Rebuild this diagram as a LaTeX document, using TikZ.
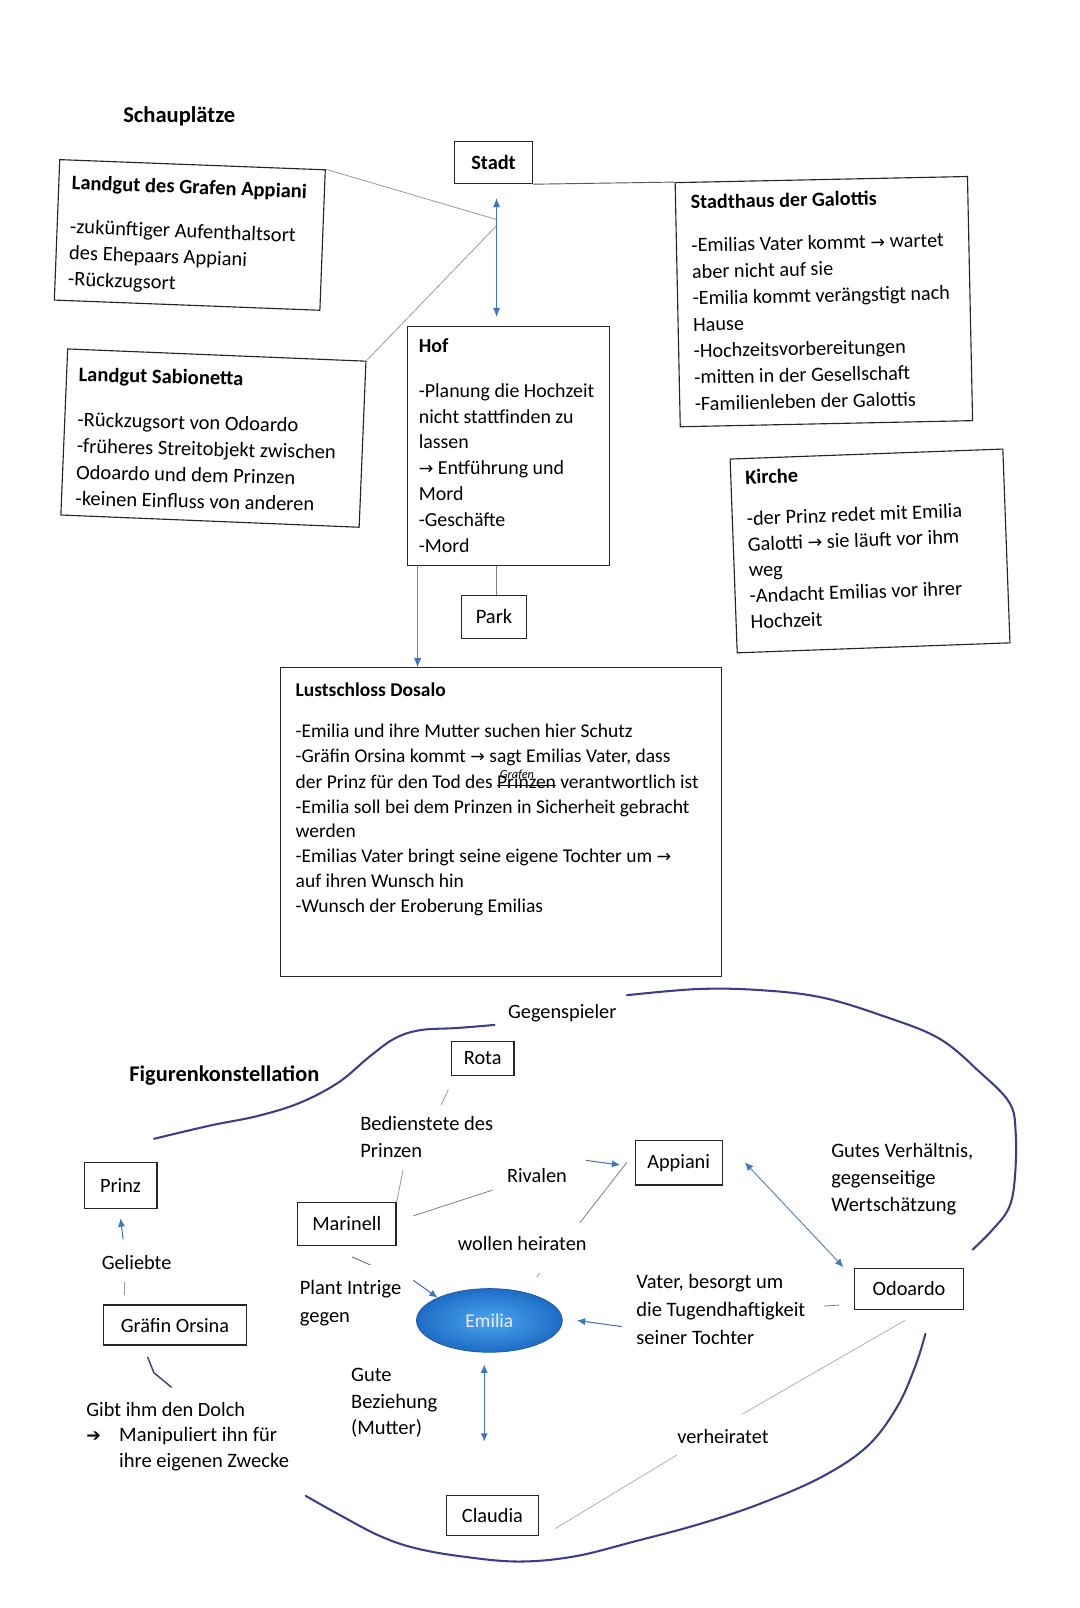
\documentclass[tikz,border=0pt]{standalone}
\usepackage{fontspec}
\setmainfont{Carlito}
\newfontfamily\arrfont{DejaVu Sans}
\usetikzlibrary{arrows.meta,shapes.geometric}
\definecolor{bluearr}{HTML}{3F74BE}
\definecolor{grayln}{HTML}{9C9C9C}
\definecolor{handc}{HTML}{3A3D88}
\definecolor{emiin}{HTML}{4CA6F0}
\definecolor{emiout}{HTML}{1E6CC6}
\definecolor{emidraw}{HTML}{1A5BA8}
\newsavebox\strkbox
\newcommand\strk[1]{\sbox\strkbox{#1}\rlap{\rule[0.3ex]{\wd\strkbox}{0.8pt}}#1}
\newcommand\txt[3]{{\fontsize{#1}{#2}\selectfont\begin{tabular}[t]{@{}l@{}}#3\end{tabular}}}
\newcommand\rarr{{\arrfont\fontsize{17}{17}\selectfont →}}
\newcommand\grafen{\rlap{\raisebox{1.1ex}{\fontsize{12}{12}\selectfont\itshape\ Grafen}}\strk{Prinzen}}
\begin{document}
\begin{tikzpicture}[x=1pt,y=-1pt,
  font=\fontsize{19.8}{25}\selectfont,
  box/.style={draw=black!85, line width=1.1pt, inner sep=0pt, rectangle},
  lbl/.style={anchor=base west, inner sep=0pt},
  gl/.style={draw=grayln, line width=0.8pt},
  bl/.style={draw=bluearr, line width=1pt},
  hand/.style={draw=handc, line width=2pt, line cap=round, line join=round}]
\fill[white] (0,0) rectangle (1052.6,1567.3);

% ---------------- Schauplaetze ----------------
\node[lbl, font=\bfseries\fontsize{22}{26}\selectfont] (schau) at (120,119) {Schauplätze};

\node[box, minimum width=76pt, minimum height=41pt, font=\bfseries\fontsize{19.8}{22}\selectfont] (stadt) at (481,158.5) {Stadt};

\begin{scope}[rotate around={-2.2:(185,229)}, transform shape]
\node[box, minimum width=259pt, minimum height=137pt] (landappiani) at (185,229) {};
\node[lbl] (landappianitxt) at (68,189) {\txt{20}{25.5}{\textbf{Landgut des Grafen Appiani}\\[17.5pt]
-zukünftiger Aufenthaltsort\\ des Ehepaars Appiani\\ -Rückzugsort}};
\end{scope}

\begin{scope}[rotate around={-2.35:(208,427)}, transform shape]
\node[box, minimum width=291pt, minimum height=162pt] (landsabio) at (208,427) {};
\end{scope}
\begin{scope}[rotate around={-1.4:(208,427)}, transform shape]
\node[lbl] (landsabiotxt) at (75,375) {\txt{20}{25.6}{\textbf{Landgut Sabionetta}\\[18.4pt]
-Rückzugsort von Odoardo\\ -früheres Streitobjekt zwischen\\ Odoardo und dem Prinzen\\ -keinen Einfluss von anderen}};
\end{scope}

\node[box, minimum width=197pt, minimum height=233pt] (hof) at (495.5,434.5) {};
\node[lbl] (hoftxt) at (408,344) {\txt{19.4}{25.3}{\textbf{Hof}\\[17.7pt]
-Planung die Hochzeit\\ nicht stattfinden zu\\ lassen\\ \rarr\ Entführung und\\ Mord\\ -Geschäfte\\ -Mord}};

\begin{scope}[rotate around={1.2:(803,294)}, transform shape]
\node[box, minimum width=285pt, minimum height=238pt] (stadthaus) at (803,294) {};
\node[lbl] (stadthaustxt) at (675,201) {\txt{19.7}{25.75}{\textbf{Stadthaus der Galottis}\\[16.25pt]
-Emilias Vater kommt \rarr\ wartet\\ aber nicht auf sie\\ -Emilia kommt verängstigt nach\\ Hause\\ -Hochzeitsvorbereitungen\\ -mitten in der Gesellschaft\\ -Familienleben der Galottis}};
\end{scope}

\begin{scope}[rotate around={2.1:(848,537)}, transform shape]
\node[box, minimum width=266pt, minimum height=189pt] (kirche) at (848,537) {};
\node[lbl] (kirchetxt) at (729,467.6) {\txt{19.8}{25.2}{\textbf{Kirche}\\[14.8pt]
-der Prinz redet mit Emilia\\ Galotti \rarr\ sie läuft vor ihm\\ weg\\ -Andacht Emilias vor ihrer\\ Hochzeit}};
\end{scope}

\node[box, minimum width=63pt, minimum height=42pt, font=\fontsize{20}{22}\selectfont] (park) at (481.5,601) {Park};

\node[box, minimum width=430pt, minimum height=301pt] (lust) at (488,801.5) {};
\node[lbl] (lusttxt) at (288,679) {\txt{19}{24.1}{\textbf{Lustschloss Dosalo}\\[15.9pt]
-Emilia und ihre Mutter suchen hier Schutz\\
-Gräfin Orsina kommt \rarr\ sagt Emilias Vater, dass\\
der Prinz für den Tod des \grafen\ verantwortlich ist\\
-Emilia soll bei dem Prinzen in Sicherheit gebracht\\
werden\\
-Emilias Vater bringt seine eigene Tochter um \rarr\\
auf ihren Wunsch hin\\
-Wunsch der Eroberung Emilias}};

% connectors (Schauplaetze)
\coordinate (junc1) at (484,214);
\coordinate (junc2) at (484,220);
\draw[gl] (landappiani.north east) -- (junc1);
\draw[gl] (junc2) -- (landsabio.north east);
\draw[draw=black!65, line width=0.9pt] (stadt.south east) -- (stadthaus.north west);
\coordinate (stadtarr) at (484,193);
\coordinate (hofarr) at (484,309);
\draw[bl, {Latex[length=9pt,width=7pt]}-{Latex[length=9pt,width=7pt]}] (stadtarr) -- (hofarr);
\coordinate (parktop) at (484,580);
\draw[gl, draw=gray] (parktop |- hof.south) -- (parktop);
\coordinate (hofleft) at (407,551);
\draw[gl, draw=gray, -{Latex[length=9pt,width=7pt,color=bluearr]}] (hofleft) -- (hofleft |- lust.north);

% ---------------- Figurenkonstellation ----------------
\node[lbl, font=\bfseries\fontsize{21.8}{26}\selectfont] (figtitle) at (126,1054) {Figurenkonstellation};

\draw[hand] plot[smooth, tension=0.6] coordinates {(150,1110) (205,1097) (250,1088) (292,1075) (330,1055) (360,1030) (385,1012) (410,1004) (445,1002) (482,999)};
\draw[hand] plot[smooth, tension=0.6] coordinates {(611,970) (680,964) (740,965) (800,972) (860,990) (915,1012) (955,1045) (984,1075) (990,1105) (989,1150) (983,1178) (967,1199) (948,1218)};
\draw[hand] plot[smooth, tension=0.6] coordinates {(298,1458) (330,1476) (370,1497) (405,1509) (450,1517) (505,1522) (560,1517) (620,1502) (680,1486) (740,1466) (800,1440) (845,1410) (874,1372) (892,1332) (902,1300)};

\node[lbl] (gegensp) at (495,993) {Gegenspieler};

\node[box, minimum width=61pt, minimum height=33pt] (rota) at (470.5,1031.5) {Rota};
\node[box, minimum width=96pt, minimum height=42pt] (marinell) at (338,1193) {Marinell};
\node[box, minimum width=85pt, minimum height=43pt] (appiani) at (661.5,1133.5) {Appiani};
\node[box, minimum width=71pt, minimum height=45pt] (prinz) at (117.5,1155.5) {Prinz};
\node[box, minimum width=139pt, minimum height=39pt] (orsina) at (170.5,1291.5) {Gräfin Orsina};
\node[box, minimum width=106pt, minimum height=40pt] (odoardo) at (886,1256) {Odoardo};
\node[box, minimum width=90pt, minimum height=39pt] (claudia) at (480,1477.5) {Claudia};
\node[ellipse, draw=emidraw, line width=0.8pt, inner color=emiin, outer color=emiout,
      minimum width=142pt, minimum height=62pt, inner sep=0pt, text=white!92!blue,
      font=\fontsize{19}{22}\selectfont] (emilia) at (477,1287) {Emilia};

\node[lbl] (bedien) at (351,1102) {\txt{20}{26}{Bedienstete des\\ Prinzen}};
\node[lbl] (rivalen) at (494,1153) {Rivalen};
\node[lbl] (wollen) at (446,1219) {wollen heiraten};
\node[lbl] (intrige) at (292,1262) {\txt{20}{27}{Plant Intrige\\ gegen}};
\node[lbl] (vater) at (620,1256) {\txt{20}{27}{Vater, besorgt um\\ die Tugendhaftigkeit\\ seiner Tochter}};
\node[lbl] (gutes) at (810,1128) {\txt{20}{26.5}{Gutes Verhältnis,\\ gegenseitige\\ Wertschätzung}};
\node[lbl] (gute) at (342,1347) {\txt{20}{25.5}{Gute\\ Beziehung\\ (Mutter)}};
\node[lbl] (verh) at (660,1407) {verheiratet};
\node[lbl] (geliebte) at (99,1237) {Geliebte};
\node[lbl] (dolch) at (84,1381) {Gibt ihm den Dolch};
\node[lbl] (manarr) at (84,1405) {{\arrfont\fontsize{17}{17}\selectfont ➔}};
\node[lbl] (manip) at (116,1405) {\txt{20}{25}{Manipuliert ihn für\\ ihre eigenen Zwecke}};

% connectors (Figuren)
\coordinate (rotaA) at (437,1062); \coordinate (rotaB) at (430,1077);
\draw[gl] (rotaA) -- (rotaB);
\coordinate (bedA) at (393,1140);
\draw[gl] (bedA) -- (marinell.north east);
\coordinate (marA) at (403,1185); \coordinate (marB) at (480,1160);
\draw[gl, draw=gray] (marA) -- (marB);
\coordinate (rivA) at (571,1131);
\draw[bl, -{Latex[length=8pt,width=7pt]}] (rivA) -- ([xshift=-14pt,yshift=-2pt]appiani.north west |- appiani.west);
\coordinate (wolA) at (611,1133); \coordinate (wolB) at (565,1192);
\draw[gl, draw=gray] (wolA) -- (wolB);
\coordinate (tickA) at (523,1245); \coordinate (tickB) at (526,1241);
\draw[gl] (tickA) -- (tickB);
\coordinate (marC) at (343,1225); \coordinate (marD) at (361,1233);
\draw[gl, draw=black!60] (marC) -- (marD);
\coordinate (intA) at (403,1248);
\draw[bl, -{Latex[length=8pt,width=7pt]}] (intA) -- (emilia.north west);
\coordinate (vatA) at (606,1293);
\draw[bl, -{Latex[length=8pt,width=7pt]}] (vatA) -- ([xshift=14pt]emilia.east);
\coordinate (odA) at (803,1273); \coordinate (odB) at (818,1272);
\draw[gl, draw=gray] (odA) -- (odB);
\coordinate (apA) at (726,1133); \coordinate (apB) at (822,1235);
\draw[bl, line width=0.8pt, {Latex[length=8pt,width=7pt]}-{Latex[length=8pt,width=7pt]}] (apA) -- (apB);
\coordinate (verA) at (882,1287); \coordinate (verB) at (724,1378);
\draw[gl, draw=black!30] (verA) -- (verB);
\coordinate (verC) at (660,1418); \coordinate (verD) at (541,1490);
\draw[gl, draw=black!30] (verC) -- (verD);
\coordinate (claA) at (472,1330); \coordinate (claB) at (472,1405);
\draw[bl, {Latex[length=8pt,width=7pt]}-{Latex[length=8pt,width=7pt]}] (claA) -- (claB);
\coordinate (prA) at (120,1208);
\draw[bl, -{Latex[length=8pt,width=7pt]}] (prA) -- ([yshift=-9pt]prinz.south);
\coordinate (gelA) at (121,1250); \coordinate (gelB) at (121,1262);
\draw[gl] (gelA) -- (gelB);
\coordinate (orsA) at (144,1323); \coordinate (orsB) at (150,1338); \coordinate (orsC) at (167,1352);
\draw[draw=handc, line width=1.4pt, line cap=round, line join=round] (orsA) -- (orsB) -- (orsC);
\end{tikzpicture}
\end{document}
